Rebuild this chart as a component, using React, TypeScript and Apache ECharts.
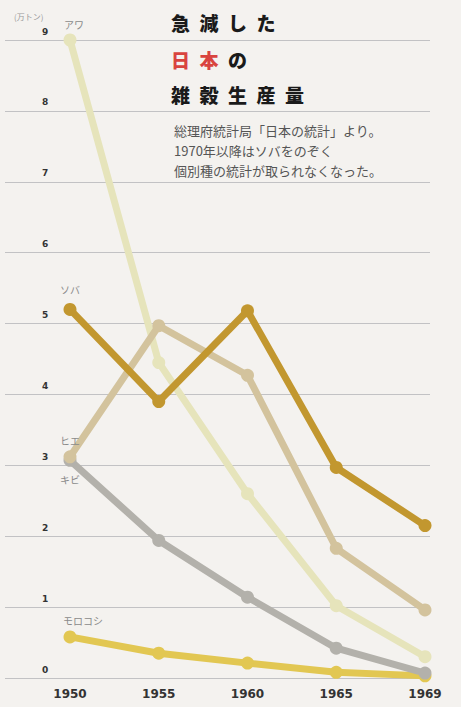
import React, { useEffect, useRef } from "react";
import * as echarts from "echarts";

const years = ["1950", "1955", "1960", "1965", "1969"];
const awa = [9.0, 4.45, 2.6, 1.02, 0.3];
const soba = [5.2, 3.9, 5.18, 2.97, 2.15];
const hie = [3.12, 4.97, 4.27, 1.83, 0.96];
const kibi = [3.07, 1.94, 1.14, 0.42, 0.07];
const morokoshi = [0.58, 0.35, 0.21, 0.08, 0.03];
const yTicks = [0, 1, 2, 3, 4, 5, 6, 7, 8, 9];

const names = ["アワ", "ソバ", "ヒエ", "キビ", "モロコシ"];

const JP = '"Noto Sans CJK JP", "Noto Sans", sans-serif';

export default function App() {
  const ref = useRef<HTMLDivElement>(null);
  useEffect(() => {
    if (!ref.current) return;
    const chart = echarts.init(ref.current, undefined, { renderer: "svg" });

    const mk = (
      name: string,
      values: number[],
      color: string,
      labelPos: string,
      offset: number[]
    ) => ({
      name,
      type: "line",
      xAxisIndex: 0,
      yAxisIndex: 0,
      clip: false,
      data: values.map((v, i) =>
        i === 0
          ? {
              value: v,
              label: {
                show: true,
                formatter: name,
                position: labelPos,
                offset,
                fontSize: 10,
                color: "#8a8a8a",
                fontFamily: JP,
              },
            }
          : v
      ),
      symbol: "circle",
      symbolSize: 13,
      lineStyle: { width: 7, color },
      itemStyle: { color },
      emphasis: { disabled: true },
    });

    chart.setOption({
      animation: false,
      backgroundColor: "#f4f2ef",
      grid: [
        { left: 70, right: 36, top: 40, bottom: 29 },
        { left: 5, right: 31, top: 40, bottom: 29 },
      ],
      xAxis: [
        {
          type: "category",
          gridIndex: 0,
          data: years,
          boundaryGap: false,
          axisLine: { show: false },
          axisTick: { show: false },
          axisLabel: {
            margin: 10,
            fontSize: 12,
            fontWeight: "bold",
            color: "#333",
            fontFamily: "DejaVu Sans",
          },
        },
        { type: "value", gridIndex: 1, show: false, min: 0, max: 1 },
      ],
      yAxis: [
        { type: "value", gridIndex: 0, min: 0, max: 9, show: false },
        {
          type: "value",
          gridIndex: 1,
          min: yTicks[0],
          max: yTicks[yTicks.length - 1],
          interval: 1,
          axisLine: { show: false },
          axisTick: { show: false },
          splitLine: { show: true, lineStyle: { color: "#c2c2c4", width: 1 } },
          axisLabel: {
            inside: true,
            margin: 37,
            fontSize: 9,
            fontWeight: "bold",
            color: "#333",
            fontFamily: "DejaVu Sans",
            verticalAlign: "bottom",
            padding: [0, 0, 4, 0],
          },
        },
      ],
      graphic: [
        {
          type: "text",
          left: 14,
          top: 12,
          style: { text: "(万トン)", fontSize: 8, fill: "#999", fontFamily: JP },
        },
        {
          type: "text",
          left: 171,
          top: 13,
          style: {
            text: "急\u2002減\u2002し\u2002た",
            fontSize: 19,
            fontWeight: 900,
            fill: "#1a1a1a",
            fontFamily: JP,
          },
        },
        {
          type: "text",
          left: 171,
          top: 50,
          style: {
            text: "{r|日\u2002本}{k|\u2002の}",
            fontSize: 19,
            fontWeight: 900,
            fontFamily: JP,
            rich: {
              r: { fontSize: 19, fontWeight: 900, fill: "#d9443f", fontFamily: JP },
              k: { fontSize: 19, fontWeight: 900, fill: "#1a1a1a", fontFamily: JP },
            },
          },
        },
        {
          type: "text",
          left: 171,
          top: 85,
          style: {
            text: "雑\u2002穀\u2002生\u2002産\u2002量",
            fontSize: 19,
            fontWeight: 900,
            fill: "#1a1a1a",
            fontFamily: JP,
          },
        },
        {
          type: "text",
          left: 174,
          top: 120,
          style: {
            text: "総理府統計局「日本の統計」より。\n1970年以降はソバをのぞく\n個別種の統計が取られなくなった。",
            fontSize: 13,
            lineHeight: 20,
            fill: "#555",
            fontFamily: JP,
          },
        },
      ],
      series: [
        mk(names[0], awa, "#e6e4bb", "top", [4, 1]),
        mk(names[4], morokoshi, "#e2c752", "top", [13, 0]),
        mk(names[3], kibi, "#b3b1ab", "bottom", [0, 3]),
        mk(names[2], hie, "#d3c39d", "top", [0, 0]),
        mk(names[1], soba, "#c2972f", "top", [0, -3]),
      ],
    });
    return () => chart.dispose();
  }, []);
  return (
    <div
      ref={ref}
      style={{ position: "fixed", left: 0, top: 0, width: 461, height: 707 }}
    />
  );
}
